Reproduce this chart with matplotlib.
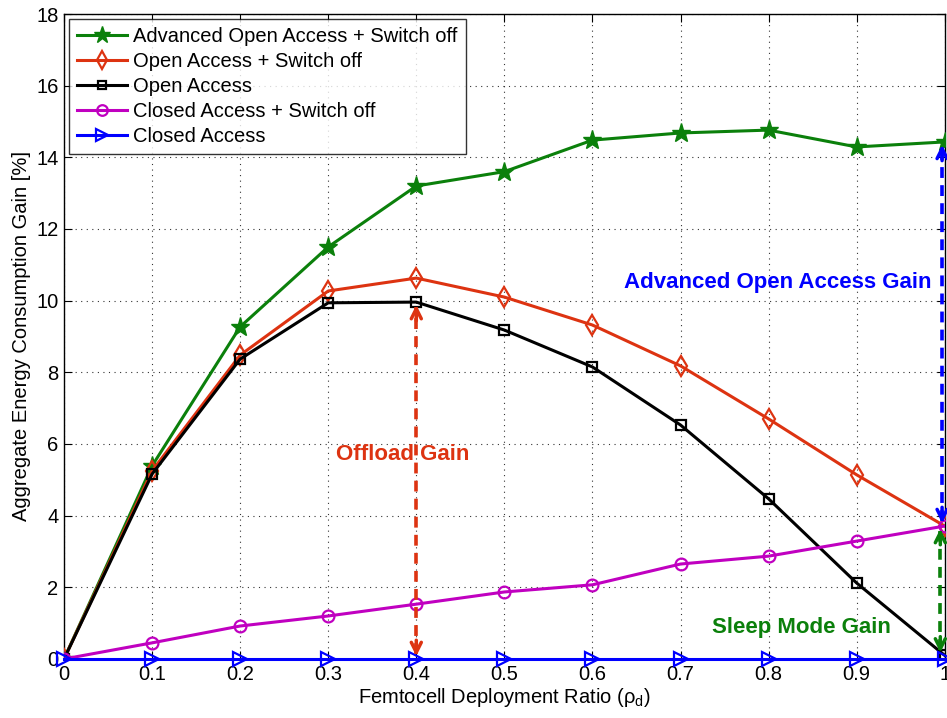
import matplotlib
matplotlib.use("Agg")
import matplotlib.pyplot as plt
import numpy as np

plt.rcParams['font.family'] = ['Liberation Sans', 'DejaVu Sans']

x = [0, 0.1, 0.2, 0.3, 0.4, 0.5, 0.6, 0.7, 0.8, 0.9, 1.0]
adv_open_switch = [0, 5.39, 9.27, 11.5, 13.2, 13.6, 14.48, 14.68, 14.76, 14.29, 14.43]
open_switch = [0, 5.25, 8.48, 10.27, 10.63, 10.1, 9.32, 8.18, 6.7, 5.14, 3.71]
open_access = [0, 5.16, 8.37, 9.94, 9.96, 9.18, 8.15, 6.53, 4.47, 2.12, 0.1]
closed_switch = [0, 0.45, 0.92, 1.2, 1.53, 1.87, 2.07, 2.65, 2.87, 3.29, 3.71]
closed_access = [0, 0, 0, 0, 0, 0, 0, 0, 0, 0, 0]

labels = ["Advanced Open Access + Switch off", "Open Access + Switch off", "Open Access",
          "Closed Access + Switch off", "Closed Access"]

GREEN = '#0b800b'
RED = '#dd3311'
BLACK = '#000000'
MAG = '#c000c0'
BLUE = '#0000ff'

FS = 14.5

fig = plt.figure(figsize=(9.47, 7.18), dpi=100)
ax = fig.add_axes([0.0676, 0.0822, 0.930, 0.8983])

lw = 2.2
ax.plot(x, adv_open_switch, color=GREEN, lw=lw, marker='*', ms=14, mfc=GREEN, mec=GREEN, label=labels[0], zorder=5)
ax.plot(x, open_switch, color=RED, lw=lw, marker='d', ms=10, mfc='none', mec=RED, mew=1.6, label=labels[1], zorder=5)
ax.plot(x, open_access, color=BLACK, lw=lw, marker='s', ms=7, mfc='none', mec=BLACK, mew=1.6, label=labels[2], zorder=5)
ax.plot(x, closed_switch, color=MAG, lw=lw, marker='o', ms=8.5, mfc='none', mec=MAG, mew=1.6, label=labels[3], zorder=5)
ax.plot(x, closed_access, color=BLUE, lw=lw, marker='>', ms=10, mfc='none', mec=BLUE, mew=1.6, label=labels[4], zorder=6, clip_on=False)

def dbl_arrow(xv, y0, y1, color):
    ax.plot([xv, xv], [y0 + 0.15, y1 - 0.15], color=color, lw=2.6, ls=(0, (3, 2)), zorder=7)
    ax.annotate('', xy=(xv, y1), xytext=(xv, y1 - 0.6),
                arrowprops=dict(arrowstyle='->', color=color, lw=2.5, mutation_scale=18), zorder=7)
    ax.annotate('', xy=(xv, y0), xytext=(xv, y0 + 0.6),
                arrowprops=dict(arrowstyle='->', color=color, lw=2.5, mutation_scale=18), zorder=7)

dbl_arrow(0.4, 0.0, 9.96, RED)
dbl_arrow(0.997, 3.71, 14.43, BLUE)
dbl_arrow(0.995, 0.1, 3.71, GREEN)

ax.text(0.384, 5.7, "Offload Gain", color=RED, fontsize=16, fontweight='bold', ha='center', va='center', zorder=8)
ax.text(0.985, 10.5, "Advanced Open Access Gain", color=BLUE, fontsize=16, fontweight='bold', ha='right', va='center', zorder=8)
ax.text(0.837, 0.87, "Sleep Mode Gain", color=GREEN, fontsize=16, fontweight='bold', ha='center', va='center', zorder=8)

ax.set_xlim(0, 1)
ax.set_ylim(0, 18)
ax.set_xticks(x)
ax.set_xticklabels(['0', '0.1', '0.2', '0.3', '0.4', '0.5', '0.6', '0.7', '0.8', '0.9', '1'])
ax.set_yticks(np.arange(0, 19, 2))
ax.tick_params(direction='in', top=True, right=True, labelsize=FS, length=6, pad=4)
ax.grid(True, color='black', ls=(0, (1, 4)), lw=0.8, alpha=0.8)
for s in ax.spines.values():
    s.set_linewidth(1.0)

ax.set_xlabel('Femtocell Deployment Ratio (ρ$_\\mathregular{d}$)', fontsize=FS, labelpad=2)
ax.set_ylabel('Aggregate Energy Consumption Gain [%]', fontsize=FS, labelpad=4)

leg = ax.legend(loc='upper left', fontsize=FS, frameon=True, fancybox=False, edgecolor='black',
                borderaxespad=0.25, handlelength=2.5, labelspacing=0.3, borderpad=0.4, handletextpad=0.3,
                markerscale=0.9)
leg.get_frame().set_linewidth(1.0)
leg.set_zorder(10)

fig.savefig('out.png', dpi=100)
